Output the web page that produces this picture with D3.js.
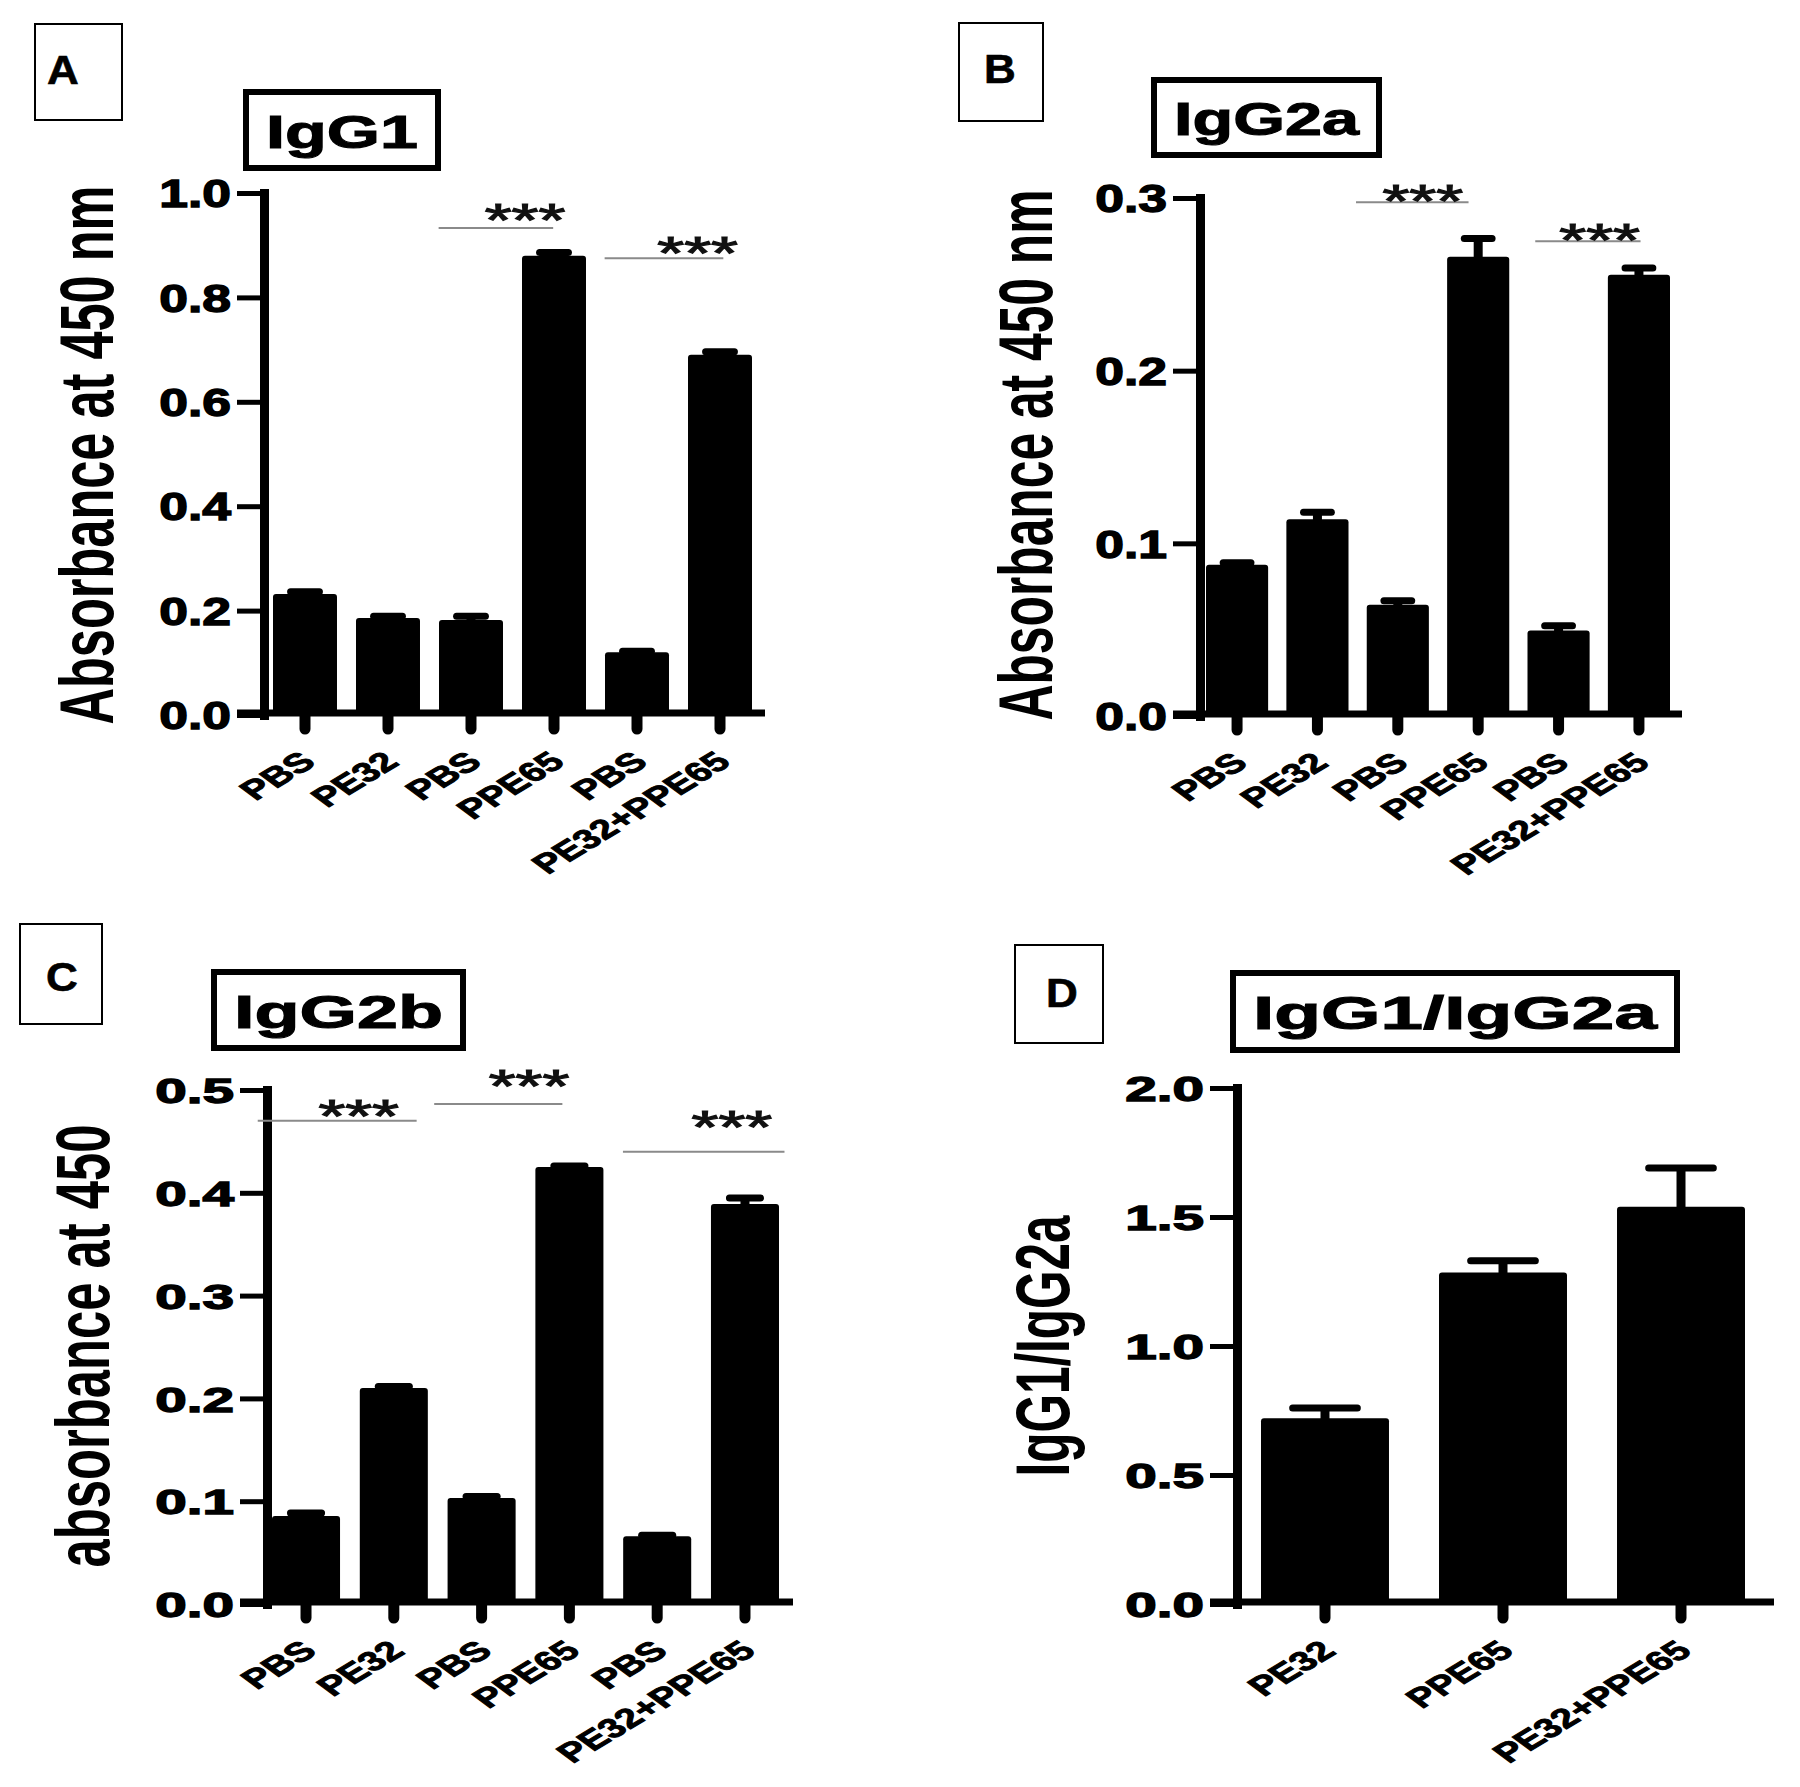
<!DOCTYPE html>
<html>
<head>
<meta charset="utf-8">
<script src="https://cdn.jsdelivr.net/npm/d3@7"></script>
<style>
  html, body { margin: 0; padding: 0; background: #fff; }
  svg { display: block; }
</style>
</head>
<body>
<svg id="fig" width="1800" height="1787"></svg>
<script>
// ---------------- DATA ----------------
const panelLetters = ["A", "B", "C", "D"];
const panelTitles = ["IgG1", "IgG2a", "IgG2b", "IgG1/IgG2a"];
const yAxisTitles = ["Absorbance at 450 nm", "Absorbance at 450 nm", "absorbance at 450", "IgG1/IgG2a"];

const groupsSix = ["PBS", "PE32", "PBS", "PPE65", "PBS", "PE32+PPE65"];
const groupsRatio = ["PE32", "PPE65", "PE32+PPE65"];

const igg1Mean  = [0.232, 0.186, 0.182, 0.880, 0.120, 0.690];
const igg1Err   = [0.004, 0.003, 0.007, 0.006, 0.002, 0.006];
const igg2aMean = [0.0876, 0.114, 0.0645, 0.266, 0.0495, 0.2555];
const igg2aErr  = [0.0012, 0.004, 0.0022, 0.0105, 0.0028, 0.004];
const igg2bMean = [0.0855, 0.210, 0.103, 0.425, 0.066, 0.389];
const igg2bErr  = [0.003, 0.0015, 0.0015, 0.001, 0.0008, 0.006];
const ratioMean = [0.72, 1.285, 1.54];
const ratioErr  = [0.04, 0.045, 0.15];

const ticksIgG1  = [0, 0.2, 0.4, 0.6, 0.8, 1.0];
const ticksIgG2a = [0, 0.1, 0.2, 0.3];
const ticksIgG2b = [0, 0.1, 0.2, 0.3, 0.4, 0.5];
const ticksRatio = [0, 0.5, 1.0, 1.5, 2.0];

const sigLabel = "***";
// significance brackets: category-index span, bracket level and label level (value units)
const sigIgG1  = [{from: 1.61, to: 2.99, line: 0.933, star: 0.968, at: 2.65},
                  {from: 3.61, to: 5.04, line: 0.875, star: 0.906, at: 4.73}];
const sigIgG2a = [{from: 1.48, to: 2.88, line: 0.2976, star: 0.3046, at: 2.31},
                  {from: 3.71, to: 5.02, line: 0.275, star: 0.282, at: 4.51}];
const sigIgG2b = [{from: -0.55, to: 1.26, line: 0.470, star: 0.485, at: 0.60},
                  {from: 1.46, to: 2.92, line: 0.4864, star: 0.5146, at: 2.54},
                  {from: 3.61, to: 5.45, line: 0.440, star: 0.474, at: 4.85}];

// ---------------- LAYOUT ----------------
const FONT = '"Liberation Sans", Arial, Helvetica, sans-serif';
const layouts = [
  { letterBox: [35, 24, 87, 96], letterAt: [63, 70], titleBox: [243, 89, 198, 82],
    axisX: 264, y0: 715, yTop: 193, domain: [0, 1.0], barRange: [273, 752], pi: 0.229, xEnd: 765,
    tickFs: 38, tickSx: 1.36, yTitleX: 113, yTitleY: 455, yTitleLen: 539 },
  { letterBox: [959, 23, 84, 98], letterAt: [1000, 69], titleBox: [1151, 77, 231, 81],
    axisX: 1200, y0: 716, yTop: 198, domain: [0, 0.3], barRange: [1206, 1670], pi: 0.227, xEnd: 1682,
    tickFs: 38, tickSx: 1.36, yTitleX: 1052, yTitleY: 455, yTitleLen: 531 },
  { letterBox: [20, 924, 82, 100], letterAt: [62, 977], titleBox: [211, 969, 255, 82],
    axisX: 267, y0: 1604, yTop: 1090, domain: [0, 0.5], barRange: [272, 779], pi: 0.225, xEnd: 793,
    tickFs: 35, tickSx: 1.62, yTitleX: 109, yTitleY: 1346, yTitleLen: 443 },
  { letterBox: [1015, 945, 88, 98], letterAt: [1062, 993], titleBox: [1230, 970, 450, 83],
    axisX: 1237, y0: 1604, yTop: 1088, domain: [0, 2.0], barRange: [1261, 1745], pi: 0.281, xEnd: 1774,
    tickFs: 35, tickSx: 1.62, yTitleX: 1069, yTitleY: 1346, yTitleLen: 261 }
];

const series = [
  { cats: groupsSix, mean: igg1Mean, err: igg1Err, ticks: ticksIgG1, sig: sigIgG1 },
  { cats: groupsSix, mean: igg2aMean, err: igg2aErr, ticks: ticksIgG2a, sig: sigIgG2a },
  { cats: groupsSix, mean: igg2bMean, err: igg2bErr, ticks: ticksIgG2b, sig: sigIgG2b },
  { cats: groupsRatio, mean: ratioMean, err: ratioErr, ticks: ticksRatio, sig: [] }
];

const svg = d3.select("#fig");
svg.append("rect").attr("width", 1800).attr("height", 1787).attr("fill", "#fff");

function drawPanel(k) {
  const L = layouts[k], S = series[k];
  const g = svg.append("g").attr("class", "panel-" + panelLetters[k]);
  const n = S.cats.length;

  // panel letter box
  const [lx, ly, lw, lh] = L.letterBox;
  g.append("rect").attr("x", lx).attr("y", ly).attr("width", lw).attr("height", lh)
    .attr("fill", "none").attr("stroke", "#000").attr("stroke-width", 2);
  g.append("text")
    .attr("transform", `translate(${L.letterAt[0]},${L.letterAt[1]}) scale(1.1,1)`)
    .attr("text-anchor", "middle").attr("dy", "0.36em")
    .style("font-family", FONT).style("font-size", "40px").style("font-weight", "bold")
    .attr("stroke", "#000").attr("stroke-width", 0.6)
    .text(panelLetters[k]);

  // title box
  const [tx, ty, tw, th] = L.titleBox;
  g.append("rect").attr("x", tx + 3).attr("y", ty + 3).attr("width", tw - 6).attr("height", th - 6)
    .attr("fill", "none").attr("stroke", "#000").attr("stroke-width", 6);
  const tfs = 46;
  g.append("text").attr("x", tx + tw / 2).attr("y", ty + th / 2 + 0.36 * tfs + 1)
    .attr("text-anchor", "middle")
    .attr("textLength", tw - 46).attr("lengthAdjust", "spacingAndGlyphs")
    .style("font-family", FONT).style("font-size", tfs + "px").style("font-weight", "bold")
    .attr("stroke", "#000").attr("stroke-width", 1)
    .text(panelTitles[k]);

  // scales
  const y = d3.scaleLinear().domain(L.domain).range([L.y0, L.yTop]);
  const x = d3.scaleBand().domain(d3.range(n)).range(L.barRange).paddingInner(L.pi).paddingOuter(0);
  const bw = x.bandwidth();
  const cx = d3.scaleLinear().domain([0, n - 1]).range([x(0) + bw / 2, x(n - 1) + bw / 2]);

  // bars
  g.append("g").selectAll("rect").data(S.mean).join("rect")
    .attr("x", (d, i) => x(i)).attr("y", d => y(d))
    .attr("width", bw).attr("height", d => y(0) - y(d))
    .attr("rx", 3).attr("fill", "#000");

  // error bars (upper whisker)
  const eb = g.append("g");
  eb.selectAll("line.stem").data(S.mean).join("line").attr("class", "stem")
    .attr("x1", (d, i) => cx(i)).attr("x2", (d, i) => cx(i))
    .attr("y1", d => y(d) + 2).attr("y2", (d, i) => y(d + S.err[i]))
    .attr("stroke", "#000").attr("stroke-width", 9);
  eb.selectAll("line.cap").data(S.mean).join("line").attr("class", "cap")
    .attr("x1", (d, i) => cx(i) - bw * 0.28 + 3.5).attr("x2", (d, i) => cx(i) + bw * 0.28 - 3.5)
    .attr("y1", (d, i) => y(d + S.err[i])).attr("y2", (d, i) => y(d + S.err[i]))
    .attr("stroke", "#000").attr("stroke-width", 7).attr("stroke-linecap", "round");

  // y axis
  const tickLen = 27;
  const ya = d3.axisLeft(y).tickValues(S.ticks).tickFormat(d3.format(".1f"))
    .tickSize(tickLen).tickSizeOuter(0).tickPadding(5);
  const yg = g.append("g").attr("transform", `translate(${L.axisX},0)`).call(ya);
  yg.select(".domain").attr("stroke", "#000").attr("stroke-width", 9).attr("stroke-linecap", "square");
  yg.selectAll(".tick line").attr("stroke", "#000").attr("stroke-width", 5);
  yg.selectAll(".tick text")
    .attr("x", -(tickLen + 6) / L.tickSx).attr("dy", "0.36em")
    .attr("transform", `scale(${L.tickSx},1)`)
    .style("font-family", FONT).style("font-size", L.tickFs + "px").style("font-weight", "bold")
    .attr("fill", "#000").attr("stroke", "#000").attr("stroke-width", 1.3);

  // x axis baseline
  g.append("line").attr("x1", L.axisX - tickLen).attr("x2", L.xEnd)
    .attr("y1", y(0) - 2).attr("y2", y(0) - 2)
    .attr("stroke", "#000").attr("stroke-width", 7);

  // x axis ticks + labels
  const xa = d3.axisBottom(x).tickFormat(i => S.cats[i]).tickSize(14).tickSizeOuter(0);
  const xg = g.append("g").attr("transform", `translate(0,${y(0)})`).call(xa);
  xg.select(".domain").remove();
  xg.selectAll(".tick line").attr("stroke", "#000").attr("stroke-width", 11).attr("stroke-linecap", "round");
  xg.selectAll(".tick text")
    .attr("y", 0).attr("dy", "0.35em").attr("text-anchor", "end")
    .attr("transform", `translate(3,42) scale(1.5,1) rotate(-42)`)
    .style("font-family", FONT).style("font-size", "27px").style("font-weight", "bold")
    .attr("fill", "#000").attr("stroke", "#000").attr("stroke-width", 0.9);

  // y axis title
  g.append("text")
    .attr("transform", `translate(${L.yTitleX},${L.yTitleY}) scale(1.45,1) rotate(-90)`)
    .attr("text-anchor", "middle")
    .attr("textLength", L.yTitleLen).attr("lengthAdjust", "spacingAndGlyphs")
    .style("font-family", FONT).style("font-size", "52px").style("font-weight", "bold")
    .text(yAxisTitles[k]);

  // significance brackets
  const sg = g.append("g");
  sg.selectAll("line").data(S.sig).join("line")
    .attr("x1", d => cx(d.from)).attr("x2", d => cx(d.to))
    .attr("y1", d => y(d.line)).attr("y2", d => y(d.line))
    .attr("stroke", "#8a8a8a").attr("stroke-width", 2);
  const sfs = 46;
  sg.selectAll("text").data(S.sig).join("text")
    .attr("transform", d => `translate(${cx(d.at)},${y(d.star) + 0.58 * sfs}) scale(1.5,1)`)
    .attr("text-anchor", "middle")
    .style("font-family", FONT).style("font-size", sfs + "px")
    .attr("fill", "#111").attr("stroke", "#111").attr("stroke-width", 1.2)
    .text(sigLabel);
}

for (let k = 0; k < 4; k++) drawPanel(k);
</script>
</body>
</html>
